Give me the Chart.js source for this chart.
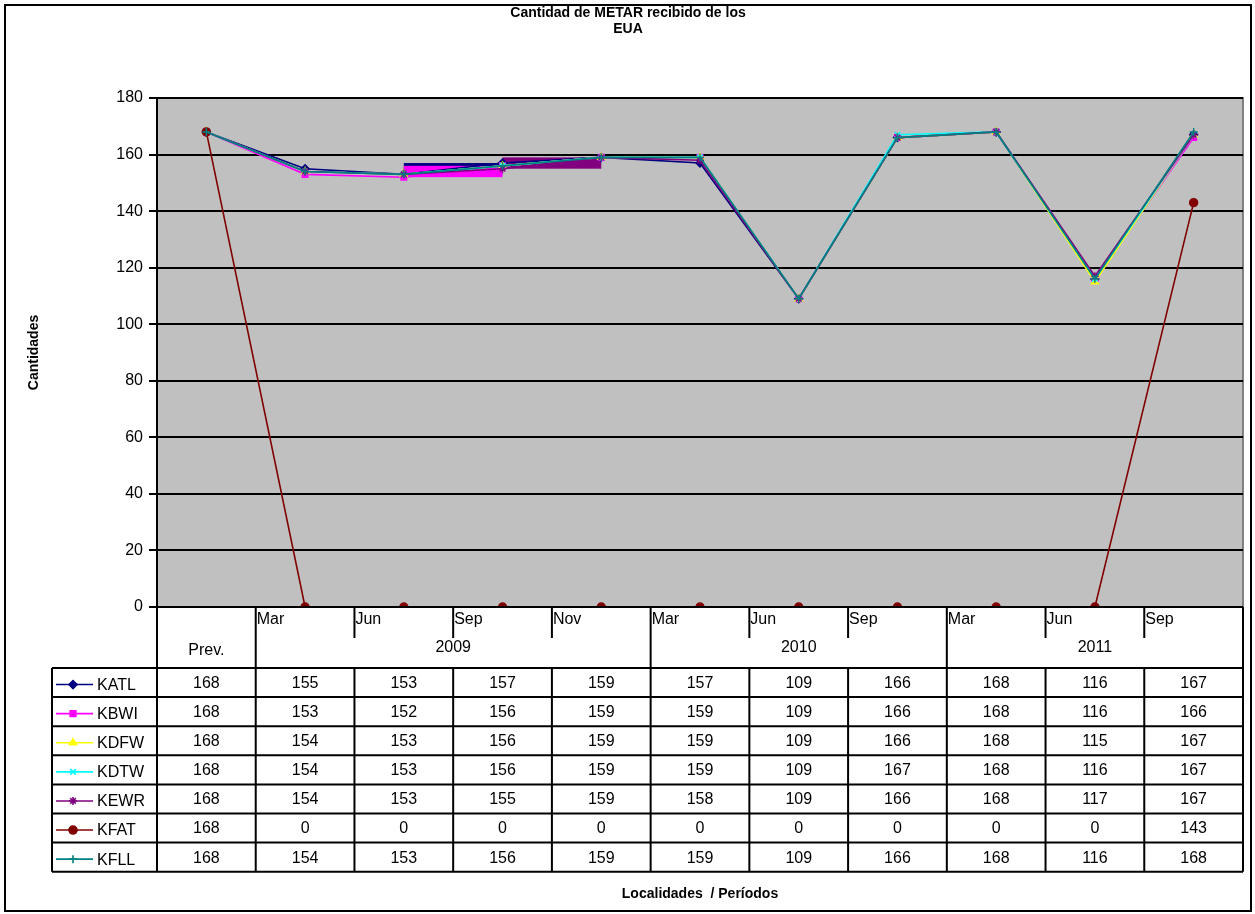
<!DOCTYPE html>
<html lang="es">
  <head>
    <meta charset="UTF-8" />
    <title>Cantidad de METAR recibido de los EUA</title>
    <script src="https://cdn.jsdelivr.net/npm/chart.js"></script>
    <style>
      * {
        margin: 0;
        padding: 0;
        box-sizing: border-box;
      }

      body {
        background-color: #ffffff;
      }

      #chart {
        display: block;
      }
    </style>
  </head>
  <body>
    <canvas id="chart" width="1255" height="914"></canvas>

    <script>
      // data
      const categories = ["Prev.", "Mar", "Jun", "Sep", "Nov", "Mar", "Jun", "Sep", "Mar", "Jun", "Sep"];
      const years = ["", "2009", "2010", "2011"];
      const yearSpans = [1, 4, 3, 3];
      const yTicks = [0, 20, 40, 60, 80, 100, 120, 140, 160, 180];

      const stations = ["KATL", "KBWI", "KDFW", "KDTW", "KEWR", "KFAT", "KFLL"];
      const kATL = [168, 155, 153, 157, 159, 157, 109, 166, 168, 116, 167];
      const kBWI = [168, 153, 152, 156, 159, 159, 109, 166, 168, 116, 166];
      const kDFW = [168, 154, 153, 156, 159, 159, 109, 166, 168, 115, 167];
      const kDTW = [168, 154, 153, 156, 159, 159, 109, 167, 168, 116, 167];
      const kEWR = [168, 154, 153, 155, 159, 158, 109, 166, 168, 117, 167];
      const kFAT = [168, 0, 0, 0, 0, 0, 0, 0, 0, 0, 143];
      const kFLL = [168, 154, 153, 156, 159, 159, 109, 166, 168, 116, 168];
      const seriesValues = [kATL, kBWI, kDFW, kDTW, kEWR, kFAT, kFLL];

      // segments that the original renders as filled blocks (station index, from category, to category)
      const blockStation = [0, 1, 4];
      const blockFrom = [2, 2, 3];
      const blockTo = [3, 3, 4];

      const colors = ["#000080", "#FF00FF", "#FFFF00", "#00FFFF", "#800080", "#800000", "#008080"];
      const markers = ["rectRot", "rect", "triangle", "crossRot", "star", "circle", "cross"];

      const FONT = "Liberation Sans, Arial, sans-serif";
      const rowH = 29.1;
      const tableTop = 668;
      const legendLeft = 52;

      const datasets = stations.map((name, i) => ({
        label: name,
        data: seriesValues[i],
        borderColor: colors[i],
        backgroundColor: colors[i],
        borderWidth: 1.6,
        pointStyle: markers[i],
        pointRadius: 4,
        pointBorderWidth: 1.4,
        tension: 0,
        order: stations.length - 1 - i,
      }));

      // grey plot background and borders
      const plotBack = {
        id: "plotBack",
        beforeDraw(chart) {
          const { ctx, chartArea: a } = chart;
          ctx.save();
          ctx.fillStyle = "#C0C0C0";
          ctx.fillRect(a.left, a.top, a.right - a.left, a.bottom - a.top);
          ctx.strokeStyle = "#808080";
          ctx.lineWidth = 2;
          ctx.beginPath();
          ctx.moveTo(a.left, a.top);
          ctx.lineTo(a.right, a.top);
          ctx.lineTo(a.right, a.bottom);
          ctx.stroke();
          ctx.restore();
        },
        beforeDatasetsDraw(chart) {
          const { ctx } = chart;
          const x = chart.scales.x;
          const y = chart.scales.y;
          ctx.save();
          blockStation.forEach((s, k) => {
            const v1 = seriesValues[s][blockFrom[k]];
            const v2 = seriesValues[s][blockTo[k]];
            const x1 = x.getPixelForValue(blockFrom[k]);
            const x2 = x.getPixelForValue(blockTo[k]);
            const y1 = y.getPixelForValue(Math.max(v1, v2));
            const y2 = y.getPixelForValue(Math.min(v1, v2));
            ctx.fillStyle = colors[s];
            ctx.fillRect(x1, y1, x2 - x1, y2 - y1);
          });
          ctx.restore();
        },
      };

      // titles, data table and outer frame
      const decorations = {
        id: "decorations",
        afterDraw(chart) {
          const { ctx, chartArea: a } = chart;
          const x = chart.scales.x;
          const n = categories.length;
          const colW = (a.right - a.left) / n;
          const edge = (i) => a.left + i * colW;
          const tableBottom = tableTop + rowH * stations.length;

          ctx.save();
          ctx.fillStyle = "#000";
          ctx.strokeStyle = "#000";

          // titles
          ctx.font = "bold 14px " + FONT;
          ctx.textAlign = "center";
          ctx.textBaseline = "middle";
          ctx.fillText("Cantidad de METAR recibido de los", 628, 13);
          ctx.fillText("EUA", 628, 29);
          ctx.fillText("Localidades  / Períodos", (a.left + a.right) / 2, 894);
          ctx.save();
          ctx.translate(34, (a.top + a.bottom) / 2);
          ctx.rotate(-Math.PI / 2);
          ctx.fillText("Cantidades", 0, 0);
          ctx.restore();

          // category header: months and years
          ctx.lineWidth = 2;
          ctx.beginPath();
          ctx.moveTo(a.left - 8, a.bottom);
          ctx.lineTo(a.right, a.bottom);
          ctx.moveTo(a.left, a.bottom);
          ctx.lineTo(a.left, tableBottom);
          ctx.moveTo(a.right, a.bottom);
          ctx.lineTo(a.right, tableBottom);
          let c = 0;
          const groupEdges = new Set();
          yearSpans.forEach((s) => {
            c += s;
            groupEdges.add(c);
          });
          for (let i = 1; i < n; i++) {
            ctx.moveTo(edge(i), a.bottom);
            ctx.lineTo(edge(i), groupEdges.has(i) ? tableBottom : 638);
            if (!groupEdges.has(i)) {
              ctx.moveTo(edge(i), tableTop);
              ctx.lineTo(edge(i), tableBottom);
            }
          }
          ctx.stroke();

          ctx.font = "16px " + FONT;
          ctx.textBaseline = "middle";
          ctx.textAlign = "left";
          for (let i = 1; i < n; i++) {
            ctx.fillText(categories[i], edge(i) + 1, 620);
          }
          ctx.textAlign = "center";
          ctx.fillText(categories[0], x.getPixelForValue(0), 651);
          let start = 0;
          years.forEach((yr, g) => {
            const end = start + yearSpans[g];
            if (yr) ctx.fillText(yr, (edge(start) + edge(end)) / 2, 648);
            start = end;
          });

          // table grid
          ctx.beginPath();
          for (let r = 0; r <= stations.length; r++) {
            const yy = tableTop + r * rowH;
            ctx.moveTo(legendLeft, yy);
            ctx.lineTo(a.right, yy);
          }
          ctx.moveTo(legendLeft, tableTop);
          ctx.lineTo(legendLeft, tableBottom);
          ctx.stroke();

          // rows
          stations.forEach((name, r) => {
            const cy = tableTop + r * rowH + rowH / 2 + 1;
            ctx.save();
            ctx.strokeStyle = colors[r];
            ctx.lineWidth = 1.6;
            ctx.beginPath();
            ctx.moveTo(56, cy + 1);
            ctx.lineTo(93, cy + 1);
            ctx.stroke();
            ctx.fillStyle = colors[r];
            Chart.helpers.drawPoint(ctx, { pointStyle: markers[r], radius: 4, borderWidth: 1.4, rotation: 0 }, 73, cy + 1);
            ctx.restore();
            ctx.textAlign = "left";
            ctx.fillText(name, 97, cy + 2);
            ctx.textAlign = "center";
            seriesValues[r].forEach((v, i) => {
              ctx.fillText(String(v), x.getPixelForValue(i), cy);
            });
          });

          // outer frame
          ctx.lineWidth = 2;
          ctx.strokeRect(5, 5, 1246, 906);
          ctx.restore();
        },
      };

      new Chart(document.getElementById("chart"), {
        type: "line",
        data: { labels: categories, datasets },
        options: {
          responsive: false,
          animation: false,
          layout: { padding: { top: 98, bottom: 307, left: 0, right: 12 } },
          plugins: {
            legend: { display: false },
            title: { display: false },
            tooltip: { enabled: false },
          },
          scales: {
            x: { type: "category", display: false, offset: true },
            y: {
              min: 0,
              max: 180,
              afterFit: (s) => {
                s.width = 157;
              },
              afterBuildTicks: (s) => {
                s.ticks = yTicks.map((v) => ({ value: v }));
              },
              ticks: {
                color: "#000",
                font: { family: FONT, size: 16 },
                padding: 6,
              },
              grid: {
                color: "#000",
                lineWidth: 2,
                tickLength: 8,
                drawOnChartArea: true,
              },
              border: { color: "#000", width: 2 },
            },
          },
        },
        plugins: [plotBack, decorations],
      });
    </script>
  </body>
</html>
